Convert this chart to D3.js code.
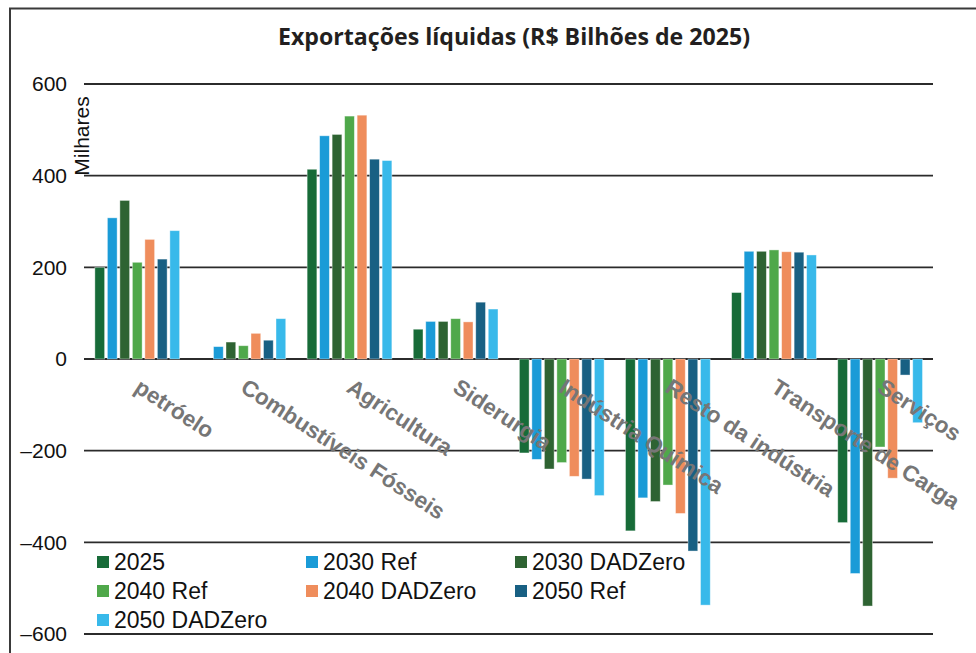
<!DOCTYPE html>
<html>
<head>
<meta charset="utf-8">
<script src="https://cdn.jsdelivr.net/npm/d3@7"></script>
<style>
  body { margin: 0; background: #fff; }
  svg { display: block; }
</style>
</head>
<body>
<svg id="chart" width="976" height="653"></svg>
<script>
// categorias e séries (valores em milhares)
var categories = ["petróelo", "Combustíveis Fósseis", "Agricultura", "Siderurgia",
                  "Indústria Química", "Resto da indústria", "Transporte de Carga", "Serviços"];
var seriesNames = ["2025", "2030 Ref", "2030 DADZero", "2040 Ref", "2040 DADZero", "2050 Ref", "2050 DADZero"];
var colors = ["#176b38", "#1a9bd7", "#2e6332", "#4fa84a", "#ef8d5c", "#186083", "#38b9ea"];

var v2025        = [200, 0, 414, 65, -205, -375, 145, -357];
var v2030Ref     = [308, 27, 487, 82, -219, -303, 235, -468];
var v2030DADZero = [346, 37, 490, 82, -240, -311, 235, -539];
var v2040Ref     = [211, 29, 530, 88, -226, -275, 238, -192];
var v2040DADZero = [261, 56, 532, 81, -256, -337, 234, -260];
var v2050Ref     = [218, 41, 436, 124, -262, -419, 233, -35];
var v2050DADZero = [280, 88, 433, 109, -298, -537, 227, -139];
var yTicks = [600, 400, 200, 0, -200, -400, -600];

var values = [v2025, v2030Ref, v2030DADZero, v2040Ref, v2040DADZero, v2050Ref, v2050DADZero];

var svg = d3.select("#chart"),
    margin = {top: 84, right: 43, bottom: 19, left: 84},
    width = +svg.attr("width") - margin.left - margin.right,
    height = +svg.attr("height") - margin.top - margin.bottom;

// moldura
svg.append("path")
    .attr("d", "M10,653 L10,8.5 L976,8.5")
    .attr("fill", "none")
    .attr("stroke", "#3a3a3a")
    .attr("stroke-width", 2);

svg.append("text")
    .attr("x", 514)
    .attr("y", 45)
    .attr("text-anchor", "middle")
    .style("font-family", "'Open Sans', sans-serif")
    .style("font-weight", 700)
    .style("font-size", "23px")
    .attr("fill", "#231f20")
    .attr("textLength", 472)
    .attr("lengthAdjust", "spacingAndGlyphs")
    .text("Exportações líquidas (R$ Bilhões de 2025)");

var g = svg.append("g").attr("transform", "translate(" + margin.left + "," + margin.top + ")");

var x0 = d3.scaleBand().domain(categories).range([0, width]);
var x1 = d3.scaleBand().domain(seriesNames).range([9.5, 97]).paddingInner(0.22).paddingOuter(0.11);
var y = d3.scaleLinear().domain([-600, 600]).range([height, 0]);

// linhas de grade
g.selectAll(".grid")
    .data(yTicks)
    .enter().append("line")
    .attr("x1", 0)
    .attr("x2", width)
    .attr("y1", function(d) { return y(d); })
    .attr("y2", function(d) { return y(d); })
    .attr("stroke", "#2b2b2b")
    .attr("stroke-width", 1.8);

var yAxis = d3.axisLeft(y).tickValues(yTicks).tickSize(0).tickPadding(17)
    .tickFormat(function(d) { return d < 0 ? "\u2013" + Math.abs(d) : d; });
var ya = g.append("g").call(yAxis);
ya.select(".domain").remove();
ya.selectAll("text")
    .style("font-family", "'Liberation Sans', Arial, sans-serif")
    .style("font-size", "21px")
    .attr("fill", "#111");

svg.append("text")
    .attr("transform", "translate(89,136) rotate(-90)")
    .attr("text-anchor", "middle")
    .style("font-family", "'Liberation Sans', Arial, sans-serif")
    .style("font-size", "21px")
    .attr("fill", "#111")
    .text("Milhares");

// barras
var groups = g.selectAll(".grp")
    .data(categories)
    .enter().append("g")
    .attr("transform", function(d) { return "translate(" + x0(d) + ",0)"; });

groups.selectAll("rect")
    .data(function(c, ci) { return seriesNames.map(function(s, si) { return {s: s, i: si, v: values[si][ci]}; }); })
    .enter().filter(function(d) { return d.v !== 0; }).append("rect")
    .attr("x", function(d) { return x1(d.s); })
    .attr("width", x1.bandwidth())
    .attr("y", function(d) { return y(Math.max(0, d.v)); })
    .attr("height", function(d) { return Math.abs(y(d.v) - y(0)); })
    .attr("fill", function(d) { return colors[d.i]; })
    .attr("stroke", "#ffffff")
    .attr("stroke-opacity", 0.5)
    .attr("stroke-width", 0.8);

// rótulos de categoria
g.selectAll(".cat")
    .data(categories)
    .enter().append("text")
    .attr("transform", function(d) { return "translate(" + (x0(d) + x0.bandwidth() / 2 - 4) + "," + (y(0) + 32) + ") rotate(33)"; })
    .attr("text-anchor", "start")
    .style("font-family", "'Liberation Sans', Arial, sans-serif")
    .style("font-weight", "bold")
    .style("font-size", "22.5px")
    .attr("fill", "#767676")
    .text(function(d) { return d; });

// legenda
var legend = svg.append("g");
var items = legend.selectAll(".item")
    .data(seriesNames)
    .enter().append("g")
    .attr("transform", function(d, i) { return "translate(" + (97 + (i % 3) * 209) + "," + (562 + Math.floor(i / 3) * 29) + ")"; });
items.append("rect")
    .attr("x", 0).attr("y", -6)
    .attr("width", 12).attr("height", 12)
    .attr("fill", function(d, i) { return colors[i]; });
items.append("text")
    .attr("x", 17).attr("y", 8)
    .style("font-family", "'Liberation Sans', Arial, sans-serif")
    .style("font-size", "23px")
    .attr("fill", "#111")
    .text(function(d) { return d; });
</script>
</body>
</html>
